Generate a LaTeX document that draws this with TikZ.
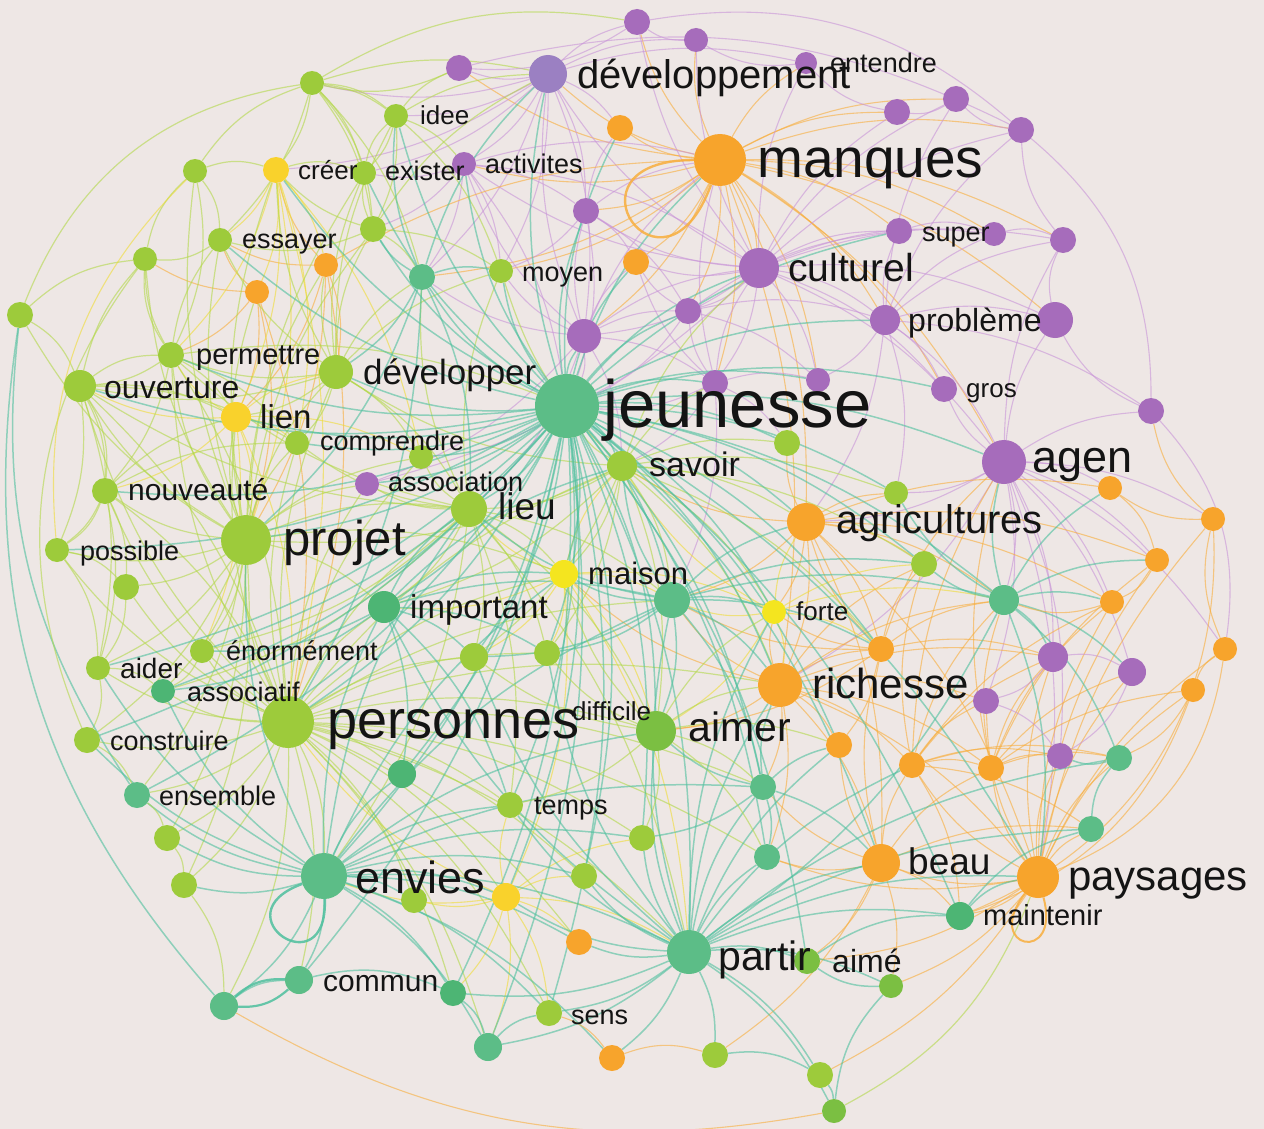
\documentclass[tikz,border=0pt]{standalone}
\usepackage{fontspec}
\setmainfont{Liberation Sans}
\usetikzlibrary{backgrounds}
\definecolor{bgc}{HTML}{EEE7E5}
\definecolor{cP}{HTML}{A66CBB}
\definecolor{cD}{HTML}{9B80C2}
\definecolor{cO}{HTML}{F7A42C}
\definecolor{cY}{HTML}{F9D22C}
\definecolor{cYb}{HTML}{F4E51F}
\definecolor{cL}{HTML}{9DCB3B}
\definecolor{cG}{HTML}{7BBF42}
\definecolor{cT}{HTML}{5CBD87}
\definecolor{cTd}{HTML}{4DB574}
\definecolor{ceP}{HTML}{C995D8}
\definecolor{ceO}{HTML}{F8AE3C}
\definecolor{ceY}{HTML}{EEDC36}
\definecolor{ceL}{HTML}{B3D84A}
\definecolor{ceT}{HTML}{4EC09E}
\tikzset{
  v/.style={circle,inner sep=0pt,draw=none},
  np/.style={v,fill=cP}, nd/.style={v,fill=cD}, no/.style={v,fill=cO},
  ny/.style={v,fill=cY}, nyb/.style={v,fill=cYb}, nl/.style={v,fill=cL},
  ng/.style={v,fill=cG}, nt/.style={v,fill=cT}, ntd/.style={v,fill=cTd},
  lab/.style={anchor=base west,inner sep=0pt,text=black!92},
  fs/.style={font=\fontsize{#1}{#1}\selectfont},
  eP/.style={draw=ceP,line width=1.1pt,opacity=.6},
  eO/.style={draw=ceO,line width=1.1pt,opacity=.6},
  eY/.style={draw=ceY,line width=1.1pt,opacity=.6},
  eL/.style={draw=ceL,line width=1.2pt,opacity=.6},
  eT/.style={draw=ceT,line width=1.5pt,opacity=.6},
  loopO/.style={draw=ceO,line width=2.4pt,opacity=.85},
  loopT/.style={draw=ceT,line width=2.4pt,opacity=.85},
}
\begin{document}
\begin{tikzpicture}[x=1pt,y=-1pt]
\useasboundingbox (0,0) rectangle (1264,1129);
% ---------- nodes: purple
\node[np,minimum size=26] (p1) at (637,22) {};
\node[np,minimum size=24] (p2) at (696,40) {};
\node[np,minimum size=26] (p3) at (459,68) {};
\node[nd,minimum size=38] (dev) at (548,74) {};
\node[np,minimum size=22] (p5) at (806,63) {};
\node[np,minimum size=26] (p6) at (897,112) {};
\node[np,minimum size=26] (p7) at (956,99) {};
\node[np,minimum size=26] (p8) at (1021,130) {};
\node[np,minimum size=24] (act) at (464,164) {};
\node[np,minimum size=26] (p10) at (586,211) {};
\node[np,minimum size=26] (sup1) at (899,231) {};
\node[np,minimum size=24] (sup2) at (994,234) {};
\node[np,minimum size=26] (p11) at (1063,240) {};
\node[np,minimum size=40] (cul) at (759,268) {};
\node[np,minimum size=26] (p12) at (688,311) {};
\node[np,minimum size=30] (prob) at (885,320) {};
\node[np,minimum size=36] (p13) at (1055,320) {};
\node[np,minimum size=34] (p14) at (584,336) {};
\node[np,minimum size=26] (p15) at (715,383) {};
\node[np,minimum size=24] (p16) at (818,380) {};
\node[np,minimum size=26] (gro) at (944,389) {};
\node[np,minimum size=26] (p17) at (1151,411) {};
\node[np,minimum size=44] (agen) at (1004,462) {};
\node[np,minimum size=24] (asso) at (367,484) {};
\node[np,minimum size=30] (p18) at (1053,657) {};
\node[np,minimum size=28] (p19) at (1132,672) {};
\node[np,minimum size=26] (p20) at (986,701) {};
\node[np,minimum size=26] (p21) at (1060,756) {};
% orange
\node[no,minimum size=26] (o1) at (620,128) {};
\node[no,minimum size=52] (man) at (720,160) {};
\node[no,minimum size=26] (o2) at (636,262) {};
\node[no,minimum size=24] (o3) at (326,265) {};
\node[no,minimum size=24] (o4) at (257,292) {};
\node[no,minimum size=38] (agri) at (806,522) {};
\node[no,minimum size=24] (o5) at (1110,488) {};
\node[no,minimum size=24] (o6) at (1213,519) {};
\node[no,minimum size=24] (o7) at (1157,560) {};
\node[no,minimum size=24] (o8) at (1112,602) {};
\node[no,minimum size=24] (o9) at (1225,649) {};
\node[no,minimum size=24] (o10) at (1193,690) {};
\node[no,minimum size=26] (o11) at (881,649) {};
\node[no,minimum size=44] (ric) at (780,685) {};
\node[no,minimum size=26] (o12) at (839,745) {};
\node[no,minimum size=26] (o13) at (912,765) {};
\node[no,minimum size=26] (o14) at (991,768) {};
\node[no,minimum size=38] (beau) at (881,863) {};
\node[no,minimum size=42] (pay) at (1038,877) {};
\node[no,minimum size=26] (o15) at (579,942) {};
\node[no,minimum size=26] (o16) at (612,1058) {};
% yellow
\node[ny,minimum size=26] (cre) at (276,170) {};
\node[ny,minimum size=30] (lien) at (236,417) {};
\node[nyb,minimum size=28] (mai) at (564,574) {};
\node[nyb,minimum size=24] (for) at (774,612) {};
\node[ny,minimum size=28] (y1) at (506,897) {};
% lime
\node[nl,minimum size=24] (l1) at (312,83) {};
\node[nl,minimum size=24] (idee) at (396,116) {};
\node[nl,minimum size=24] (l2) at (195,171) {};
\node[nl,minimum size=24] (exi) at (364,173) {};
\node[nl,minimum size=26] (l3) at (373,229) {};
\node[nl,minimum size=24] (ess) at (220,240) {};
\node[nl,minimum size=24] (l4) at (145,259) {};
\node[nl,minimum size=26] (l5) at (20,315) {};
\node[nl,minimum size=24] (moy) at (501,271) {};
\node[nl,minimum size=26] (perm) at (171,355) {};
\node[nl,minimum size=34] (dvp) at (336,372) {};
\node[nl,minimum size=32] (ouv) at (80,386) {};
\node[nl,minimum size=24] (comp) at (297,443) {};
\node[nl,minimum size=24] (l6) at (421,457) {};
\node[nl,minimum size=26] (nouv) at (105,491) {};
\node[nl,minimum size=36] (lieu) at (469,509) {};
\node[nl,minimum size=30] (sav) at (622,466) {};
\node[nl,minimum size=26] (l7) at (787,443) {};
\node[nl,minimum size=24] (l8) at (896,493) {};
\node[nl,minimum size=50] (proj) at (246,540) {};
\node[nl,minimum size=24] (poss) at (57,550) {};
\node[nl,minimum size=26] (l9) at (126,587) {};
\node[nl,minimum size=26] (l10) at (924,564) {};
\node[nl,minimum size=24] (eno) at (202,651) {};
\node[nl,minimum size=24] (aid) at (98,668) {};
\node[nl,minimum size=52] (pers) at (288,722) {};
\node[nl,minimum size=28] (l11) at (474,657) {};
\node[nl,minimum size=26] (l12) at (547,653) {};
\node[nl,minimum size=26] (tem) at (510,805) {};
\node[nl,minimum size=26] (l13) at (167,838) {};
\node[nl,minimum size=26] (l14) at (184,885) {};
\node[nl,minimum size=26] (l15) at (414,900) {};
\node[nl,minimum size=26] (l16) at (584,876) {};
\node[nl,minimum size=26] (l17) at (642,838) {};
\node[nl,minimum size=26] (cons) at (87,740) {};
\node[nl,minimum size=26] (sens) at (549,1013) {};
\node[nl,minimum size=26] (l18) at (715,1055) {};
\node[nl,minimum size=26] (l19) at (820,1075) {};
% green
\node[ng,minimum size=40] (aimer) at (656,731) {};
\node[ng,minimum size=26] (aime) at (807,961) {};
\node[ng,minimum size=24] (g1) at (891,986) {};
\node[ng,minimum size=24] (g2) at (834,1111) {};
% teal
\node[nt,minimum size=64] (jeu) at (567,406) {};
\node[nt,minimum size=26] (t1) at (422,277) {};
\node[nt,minimum size=36] (hub) at (672,600) {};
\node[nt,minimum size=30] (tv) at (1004,600) {};
\node[nt,minimum size=46] (env) at (324,876) {};
\node[nt,minimum size=28] (t2) at (224,1006) {};
\node[nt,minimum size=28] (com) at (299,980) {};
\node[nt,minimum size=28] (t3) at (488,1047) {};
\node[nt,minimum size=26] (t4) at (763,787) {};
\node[nt,minimum size=26] (t5) at (767,857) {};
\node[nt,minimum size=26] (t6) at (1119,758) {};
\node[nt,minimum size=26] (t7) at (1091,829) {};
\node[nt,minimum size=44] (par) at (689,952) {};
\node[nt,minimum size=26] (ens) at (137,795) {};
\node[ntd,minimum size=32] (imp) at (384,607) {};
\node[ntd,minimum size=24] (asf) at (163,691) {};
\node[ntd,minimum size=28] (g3) at (402,774) {};
\node[ntd,minimum size=26] (g4) at (453,993) {};
\node[ntd,minimum size=28] (mnt) at (960,916) {};
% ---------- edges
\begin{pgfonlayer}{background}
\fill[bgc] (0,0) rectangle (1264,1129);
\foreach \t in {dev,cul,prob,p1,p2,p3,p5,p6,p7,p8,sup1,sup2,p10,p12,o1,o2,act,agen,p11,p13,p14,p15,p16,moy,t1,ric,agri,gro}
  \draw[eO] (man) to[bend left=14] (\t);
\foreach \t in {dev,prob,sup1,sup2,p11,p12,p13,p14,p15,p16,gro,agen,p6,p7,p8,p10,act,o2,asso,p1,p2,p5}
  \draw[eP] (cul) to[bend left=14] (\t);
\foreach \t in {agen,p13,sup2,p11,gro,p17,p7,p8,l8,agri,p16,sup1}
  \draw[eP] (prob) to[bend left=14] (\t);
\foreach \t in {p13,p17,gro,o5,o6,o7,o8,agri,p18,p19,p20,p21,pay,ric,l8,tv,o9,p11}
  \draw[eP] (agen) to[bend left=14] (\t);
\foreach \t in {p1,p2,p3,act,p10,p14,idee,cre,exi,l1,o1,p5,moy,t1}
  \draw[eP] (dev) to[bend left=14] (\t);
\foreach \t in {jeu,man,cul,dev,p10,p12,p15,sav,moy,o2,t1,act,asso,lieu}
  \draw[eP] (p14) to[bend left=14] (\t);
\foreach \t in {jeu,cul,man,p12,p16,o2,l7,sav,hub}
  \draw[eP] (p15) to[bend left=14] (\t);
\foreach \t in {cul,man,p10,jeu,moy,t1,l3,exi}
  \draw[eP] (act) to[bend left=14] (\t);
\foreach \t in {jeu,man,o2,moy,p12,o1}
  \draw[eP] (p10) to[bend left=14] (\t);
\foreach \t in {jeu,prob,o2,p16,sup1}
  \draw[eP] (p12) to[bend left=14] (\t);
\foreach \t in {ric,l8,l10,o5,o7,o8,tv,beau,pay,o11,for,sav,l7,hub}
  \draw[eO] (agri) to[bend left=14] (\t);
\foreach \t in {beau,pay,o11,o12,o13,o14,tv,p18,p20,t4,t5,for,mai,hub,aimer,l10}
  \draw[eO] (ric) to[bend left=14] (\t);
\foreach \t in {beau,mnt,o9,o10,o14,o13,t6,t7,p21,p19,o6,o7,o8,t5,aime,g1,l19,p18,p20}
  \draw[eO] (pay) to[bend left=14] (\t);
\foreach \t in {mnt,o12,o13,o14,t5,t7,aime,g1,l18,o11,t4}
  \draw[eO] (beau) to[bend left=14] (\t);
\foreach \t in {tv,p18,p20,p21,o14,agen,t6,t7,mnt,l10,o8}
  \draw[eO] (o13) to[bend left=14] (\t);
\foreach \t in {tv,p18,p19,p21,o8,o10,t6,agen,o7}
  \draw[eO] (o14) to[bend left=14] (\t);
\foreach \t in {tv,l10,for,hub,agri,agen,p18,o12,aimer}
  \draw[eO] (o11) to[bend left=14] (\t);
\foreach \t in {proj,pers,dvp,cre,lien,ess,man}
  \draw[eO] (o3) to[bend left=14] (\t);
\foreach \t in {proj,pers,perm,lien,ess,l4}
  \draw[eO] (o4) to[bend left=14] (\t);
\foreach \t in {lien,comp,proj,pers,perm,l6,o3,o4,ess}
  \draw[eY] (cre) to[bend left=14] (\t);
\foreach \t in {perm,ouv,comp,proj,pers,nouv,l6,dvp,eno}
  \draw[eY] (lien) to[bend left=14] (\t);
\foreach \t in {hub,for,lieu,sav,l12,l11,aimer,imp,y1,par}
  \draw[eY] (mai) to[bend left=14] (\t);
\foreach \t in {env,par,l15,l16,o15,tem,g4,t3,sens,pers,l17}
  \draw[eY] (y1) to[bend left=14] (\t);
\foreach \t in {hub,ric,agri,l10,o11,sav,aimer,tv}
  \draw[eY] (for) to[bend left=14] (\t);
\foreach \t in {perm,ouv,lien,comp,nouv,poss,l9,eno,aid,asf,cons,dvp,ess,l4,l5,l2,cre,lieu,imp,ens,l13,l14,l6,exi,l3,o4,o3,asso,mai}
  \draw[eL] (proj) to[bend left=14] (\t);
\foreach \t in {perm,l3,exi,t1,moy,comp,l6,lieu,idee,cre,ess,o3,ouv,lien}
  \draw[eL] (dvp) to[bend left=14] (\t);
\foreach \t in {ouv,l4,ess,lien,comp,nouv,pers,jeu}
  \draw[eL] (perm) to[bend left=14] (\t);
\foreach \t in {l4,nouv,poss,aid,pers,lien,comp}
  \draw[eL] (ouv) to[bend left=14] (\t);
\foreach \t in {poss,l9,aid,pers,comp,lien}
  \draw[eL] (nouv) to[bend left=14] (\t);
\foreach \t in {idee,l3,cre,exi,dev,ess,t1}
  \draw[eL] (l1) to[bend left=14] (\t);
\foreach \t in {exi,act,dev,p3,l3,moy}
  \draw[eL] (idee) to[bend left=14] (\t);
\foreach \t in {moy,t1,exi,dev,cre}
  \draw[eL] (l3) to[bend left=14] (\t);
\foreach \t in {jeu,lieu,mai,hub,for,l7,agri,ric,l12,l11,aimer,proj,imp,dvp,cul,p15,l10,l8,o11,moy}
  \draw[eL] (sav) to[bend left=14] (\t);
\foreach \t in {l6,comp,asso,imp,l11,l12,mai,hub,aimer,t1,moy,env,par,tem,asf,eno,perm,ouv}
  \draw[eL] (lieu) to[bend left=14] (\t);
\foreach \t in {proj,env,imp,par,aimer,lieu,eno,aid,asf,cons,ens,l13,l14,com,tem,g3,l11,l12,l15,mai,hub,nouv,poss,l9,dvp,perm,ouv,lien,comp,t2,sens,y1,l16,o15,t3,g4,l17,sav,asso,l6,t4,t5,ric}
  \draw[eL] (pers) to[bend left=14] (\t);
\foreach \t in {dev,man,cul,prob,agen,agri,ric,beau,pay,par,env,pers,proj,dvp,lieu,sav,imp,mai,hub,aimer,perm,ouv,lien,comp,asso,nouv,moy,ess,cre,idee,act,t1,p14,p10,l7,l8,for,tv,t4,t5,com,ens,sens,tem,l11,l12,aime,mnt,gro,p15,p16,o2,l3,exi,cons,aid,eno,asf,poss,g3,l16,l17,y1,t3,g4,l10,o11,o12,l6,o1,p12,sup1}
  \draw[eT] (jeu) to[bend left=14] (\t);
\foreach \t in {dvp,moy,l3,idee,dev,lieu,proj,pers}
  \draw[eT] (t1) to[bend left=14] (\t);
\foreach \t in {par,com,t2,ens,cons,l13,l14,g4,t3,sens,y1,l15,tem,g3,imp,hub,aimer,o15,o16,l16,asf,aid,proj,lieu,t4,l17,mai}
  \draw[eT] (env) to[bend left=14] (\t);
\foreach \t in {aimer,beau,pay,mnt,aime,g1,l18,l19,g2,sens,t3,o16,t4,t5,hub,imp,ric,o12,o13,l17,l16,tem,y1,t6,t7,g4,o15,for,l11,l12}
  \draw[eT] (par) to[bend left=14] (\t);
\foreach \t in {hub,mai,lieu,l11,l12,eno,tem,g3,asf,sav}
  \draw[eT] (imp) to[bend left=14] (\t);
\foreach \t in {mai,for,aimer,sav,l12,l11,tv,t4,lieu,ric,agri,l10,o11}
  \draw[eT] (hub) to[bend left=14] (\t);
\foreach \t in {agen,p18,p19,o8,o7,o5,l10,l8,par,pay,t6}
  \draw[eT] (tv) to[bend left=14] (\t);
\foreach \t in {aimer,ric,o12,beau,t5,l17}
  \draw[eT] (t4) to[bend left=14] (\t);
\foreach \t in {l11,l12,t4,t5,l17,tem,o12,for,mai,ric}
  \draw[eL] (aimer) to[bend left=14] (\t);
% perimeter links
\foreach \a/\b in {l5/ouv,l5/l4,l4/l2,l2/l1,l1/idee,l3/ess,ess/l4,ouv/perm,ouv/nouv,nouv/poss,poss/aid,aid/cons,cons/ens,ens/l13,l13/l14,l14/t2,perm/l4,l2/cre,cre/exi,exi/idee,l1/l3,poss/l9,l9/aid,aid/asf,eno/asf,p3/l1,l2/ess,l2/perm}
  \draw[eL] (\a) to[bend left=18] (\b);
\foreach \a/\b in {t2/com,com/g4,g4/t3,t3/sens,l18/l19,l19/g2,g2/g1,g1/aime,aime/mnt,mnt/t7,t7/t6,t6/p21,mnt/pay}
  \draw[eT] (\a) to[bend left=18] (\b);
\foreach \a/\b in {sens/o16,o16/l18,o10/o9,o9/o6,o6/o5,o5/o7,o7/o8,o8/tv,o10/t6,o6/p17}
  \draw[eO] (\a) to[bend left=18] (\b);
\foreach \a/\b in {p17/p13,p13/p11,p11/p8,p8/p7,p7/p6,p6/p5,p5/p2,p2/p1,p1/p3,sup1/sup2,sup2/p11,p18/p19,p19/p21,p20/p21,p18/p20}
  \draw[eP] (\a) to[bend left=18] (\b);
% outer sweeping arcs
\draw[eL] (l5) to[bend left=30] (l1);
\draw[eL] (l1) to[bend left=20] (p1);
\draw[eP] (p1) to[bend left=25] (p8);
\draw[eP] (p8) to[bend left=25] (p17);
\draw[eP] (p17) to[bend left=25] (o9);
\draw[eO] (o9) to[bend left=30] (pay);
\draw[eO] (o6) to[bend left=35] (mnt);
\draw[eL] (pay) to[bend left=20] (g2);
\draw[eO] (g2) to[bend left=20] (t2);
\draw[eT] (t2) to[bend left=25] (l5);
\draw[eT] (ens) to[bend left=20] (l5);
\draw[eL] (l4) to[bend right=30] (cons);
\draw[eP] (p3) to[bend left=20] (p8);
\draw[eY] (l2) to[bend right=25] (poss);
\draw[eO] (o10) to[bend left=25] (mnt);
% loops and double edges
\draw[loopO] (man) to[out=180,in=250,min distance=140pt] (man);
\draw[loopT] (env) to[out=200,in=272,min distance=90pt] (env);
\draw[loopO,line width=2pt] (pay) to[out=232,in=285,min distance=70pt] (pay);
\draw[loopT,line width=2.2pt] (com) to[bend left=22] (t2);
\draw[loopT,line width=2.2pt] (com) to[bend right=22] (t2);
\end{pgfonlayer}
% ---------- labels
\node[lab,fs=40] (tdev) at (577,89) {développement};
\node[lab,fs=27] (tent) at (830,73) {entendre};
\node[lab,fs=55] (tman) at (757,178) {manques};
\node[lab,fs=27] (tact) at (485,173) {activites};
\node[lab,fs=26] (tcre) at (298,179) {créer};
\node[lab,fs=27] (texi) at (385,181) {exister};
\node[lab,fs=26] (tidee) at (420,125) {idee};
\node[lab,fs=27] (tsup) at (922,241) {super};
\node[lab,fs=39] (tcul) at (788,281) {culturel};
\node[lab,fs=27] (tess) at (242,248) {essayer};
\node[lab,fs=27] (tmoy) at (522,281) {moyen};
\node[lab,fs=32] (tprob) at (908,331) {problème};
\node[lab,fs=29] (tperm) at (196,364) {permettre};
\node[lab,fs=35] (tdvp) at (363,384) {développer};
\node[lab,fs=32] (touv) at (104,398) {ouverture};
\node[lab,fs=26] (tgro) at (966,397) {gros};
\node[lab,fs=67] (tjeu) at (603,427) {jeunesse};
\node[lab,fs=33] (tlien) at (260,428) {lien};
\node[lab,fs=27] (tcomp) at (320,450) {comprendre};
\node[lab,fs=34] (tsav) at (649,476) {savoir};
\node[lab,fs=45] (tagen) at (1032,472) {agen};
\node[lab,fs=27] (tasso) at (388,491) {association};
\node[lab,fs=30] (tnouv) at (128,500) {nouveauté};
\node[lab,fs=37] (tlieu) at (498,519) {lieu};
\node[lab,fs=40] (tagri) at (836,533) {agricultures};
\node[lab,fs=49] (tproj) at (283,555) {projet};
\node[lab,fs=27] (tposs) at (80,560) {possible};
\node[lab,fs=31] (tmai) at (588,584) {maison};
\node[lab,fs=33] (timp) at (410,618) {important};
\node[lab,fs=26] (tfor) at (796,620) {forte};
\node[lab,fs=27] (teno) at (226,660) {énormément};
\node[lab,fs=28] (taid) at (120,678) {aider};
\node[lab,fs=42] (tric) at (812,698) {richesse};
\node[lab,fs=27] (tasf) at (187,701) {associatif};
\node[lab,fs=26] (tdif) at (572,720) {difficile};
\node[lab,fs=54] (tpers) at (327,738) {personnes};
\node[lab,fs=41] (taimer) at (688,741) {aimer};
\node[lab,fs=27] (tcons) at (110,750) {construire};
\node[lab,fs=27] (tens) at (159,805) {ensemble};
\node[lab,fs=27] (ttem) at (534,814) {temps};
\node[lab,fs=37] (tbeau) at (908,874) {beau};
\node[lab,fs=42] (tpay) at (1068,890) {paysages};
\node[lab,fs=45] (tenv) at (355,893) {envies};
\node[lab,fs=29] (tmnt) at (983,925) {maintenir};
\node[lab,fs=41] (tpar) at (718,970) {partir};
\node[lab,fs=32] (taime) at (832,972) {aimé};
\node[lab,fs=30] (tcom) at (323,991) {commun};
\node[lab,fs=27] (tsens) at (571,1024) {sens};
\end{tikzpicture}
\end{document}
